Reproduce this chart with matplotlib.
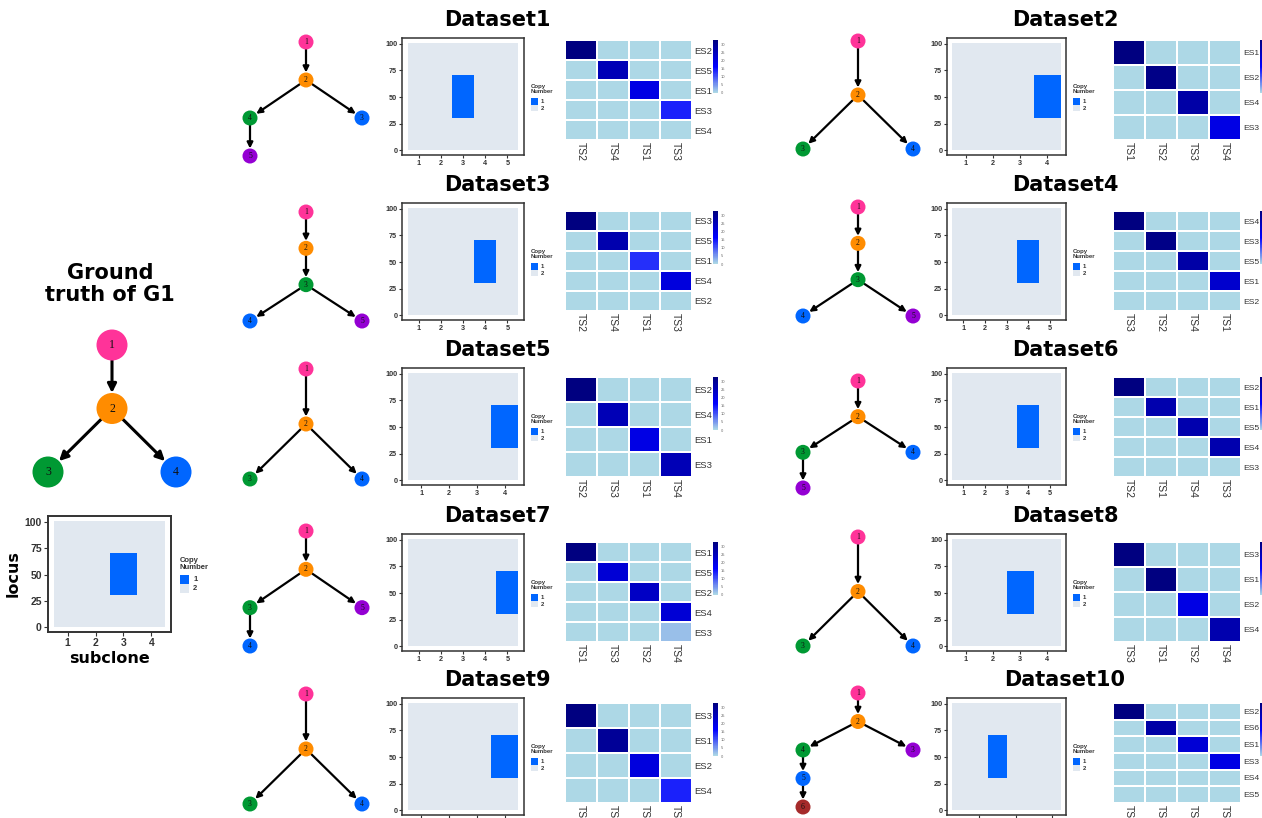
import numpy as np
import matplotlib
matplotlib.use("Agg")
import matplotlib.pyplot as plt
from matplotlib.colors import ListedColormap, LinearSegmentedColormap, BoundaryNorm
from matplotlib.patches import Circle, Rectangle, FancyArrowPatch

# ---------------------------------------------------------------- data
NODE_COLORS = {"pink": "#FF3399", "orange": "#FF8C00", "green": "#009933",
               "blue": "#0066FF", "purple": "#9400D3", "brown": "#A52A2A"}

# ground truth tree and copy-number profile
gt_edges = [(1, 2), (2, 3), (2, 4)]
gt_colors = {1: "pink", 2: "orange", 3: "green", 4: "blue"}
gt_n_subclones = 4
gt_deleted_subclone = 3
gt_deleted_loci = (31, 70)

dataset_names = ["Dataset1", "Dataset2", "Dataset3", "Dataset4", "Dataset5",
                 "Dataset6", "Dataset7", "Dataset8", "Dataset9", "Dataset10"]

tree_edges = [
    [(1, 2), (2, 4), (2, 3), (4, 5)],
    [(1, 2), (2, 3), (2, 4)],
    [(1, 2), (2, 3), (3, 4), (3, 5)],
    [(1, 2), (2, 3), (3, 4), (3, 5)],
    [(1, 2), (2, 3), (2, 4)],
    [(1, 2), (2, 3), (2, 4), (3, 5)],
    [(1, 2), (2, 3), (2, 5), (3, 4)],
    [(1, 2), (2, 3), (2, 4)],
    [(1, 2), (2, 3), (2, 4)],
    [(1, 2), (2, 4), (2, 3), (4, 5), (5, 6)],
]
tree_colors = [
    {1: "pink", 2: "orange", 3: "blue", 4: "green", 5: "purple"},
    {1: "pink", 2: "orange", 3: "green", 4: "blue"},
    {1: "pink", 2: "orange", 3: "green", 4: "blue", 5: "purple"},
    {1: "pink", 2: "orange", 3: "green", 4: "blue", 5: "purple"},
    {1: "pink", 2: "orange", 3: "green", 4: "blue"},
    {1: "pink", 2: "orange", 3: "green", 4: "blue", 5: "purple"},
    {1: "pink", 2: "orange", 3: "green", 4: "blue", 5: "purple"},
    {1: "pink", 2: "orange", 3: "green", 4: "blue"},
    {1: "pink", 2: "orange", 3: "green", 4: "blue"},
    {1: "pink", 2: "orange", 3: "purple", 4: "green", 5: "blue", 6: "brown"},
]

cna_n_subclones = [5, 4, 5, 5, 4, 5, 5, 4, 4, 6]
cna_deleted_subclone = [3, 4, 4, 4, 4, 4, 5, 3, 4, 3]
cna_deleted_loci = (31, 70)

es_labels = [
    ["ES2", "ES5", "ES1", "ES3", "ES4"],
    ["ES1", "ES2", "ES4", "ES3"],
    ["ES3", "ES5", "ES1", "ES4", "ES2"],
    ["ES4", "ES3", "ES5", "ES1", "ES2"],
    ["ES2", "ES4", "ES1", "ES3"],
    ["ES2", "ES1", "ES5", "ES4", "ES3"],
    ["ES1", "ES5", "ES2", "ES4", "ES3"],
    ["ES3", "ES1", "ES2", "ES4"],
    ["ES3", "ES1", "ES2", "ES4"],
    ["ES2", "ES6", "ES1", "ES3", "ES4", "ES5"],
]
ts_labels = [
    ["TS2", "TS4", "TS1", "TS3"],
    ["TS1", "TS2", "TS3", "TS4"],
    ["TS2", "TS4", "TS1", "TS3"],
    ["TS3", "TS2", "TS4", "TS1"],
    ["TS2", "TS3", "TS1", "TS4"],
    ["TS2", "TS1", "TS4", "TS3"],
    ["TS1", "TS3", "TS2", "TS4"],
    ["TS3", "TS1", "TS2", "TS4"],
    ["TS3", "TS1", "TS2", "TS4"],
    ["TS2", "TS1", "TS3", "TS4"],
]
overlap_values = [
    [[33, 0, 0, 0], [0, 26, 0, 0], [0, 0, 20, 0], [0, 0, 0, 14], [0, 0, 0, 0]],
    [[33, 0, 0, 0], [0, 32, 0, 0], [0, 0, 28, 0], [0, 0, 0, 20]],
    [[33, 0, 0, 0], [0, 27, 0, 0], [0, 0, 13, 0], [0, 0, 0, 21], [0, 0, 0, 0]],
    [[33, 0, 0, 0], [0, 32, 0, 0], [0, 0, 28, 0], [0, 0, 0, 23], [0, 0, 0, 0]],
    [[33, 0, 0, 0], [0, 26, 0, 0], [0, 0, 20, 0], [0, 0, 0, 26]],
    [[33, 0, 0, 0], [0, 27, 0, 0], [0, 0, 27, 0], [0, 0, 0, 27], [0, 0, 0, 0]],
    [[33, 0, 0, 0], [0, 22, 0, 0], [0, 0, 24, 0], [0, 0, 0, 22], [0, 0, 0, 2]],
    [[33, 0, 0, 0], [0, 33, 0, 0], [0, 0, 20, 0], [0, 0, 0, 27]],
    [[33, 0, 0, 0], [0, 30, 0, 0], [0, 0, 21, 0], [0, 0, 0, 14]],
    [[33, 0, 0, 0], [0, 28, 0, 0], [0, 0, 22, 0], [0, 0, 0, 20], [0, 0, 0, 0], [0, 0, 0, 0]],
]

# ---------------------------------------------------------------- layout (pixels)
W, H, DPI = 1262, 818, 100
title_y = [20, 185, 350, 516, 680]
cna_top = [38, 203, 368, 534, 698]
heat_top = [40, 211, 377, 542, 703]
tree_box = [  # (top, bottom) of each tree
    (42, 156), (41, 149), (212, 321), (207, 316), (369, 479),
    (381, 488), (531, 646), (537, 646), (694, 804), (693, 807)]
col_title_x = [497, 1065]
col_tree_cx = [306, 858]
col_tree_half = [56, 55]
col_cna_x = [402, 947]
col_cna_w = [122, 119]
col_legend_x = [531, 1073]
col_heat_x = [565, 1113]
col_heat_w = [127, 128]
col_cbar_x = [713, 1259.5]
col_cbar_labels = [True, False]
col_es_fs = [6.8, 6.1]

CN_COLORS = ["#0066FF", "#E1E8F0"]
TEXT_DARK = "#333333"
TITLE_FONT = dict(fontsize=15, fontweight="bold", family="DejaVu Sans")
heat_cmap = LinearSegmentedColormap.from_list(
    "overlap", ["#ADD8E6", "#0000FF", "#000080"])

fig = plt.figure(figsize=(W / DPI, H / DPI), dpi=DPI)
canvas = fig.add_axes([0, 0, 1, 1])
canvas.set_xlim(0, W)
canvas.set_ylim(H, 0)
canvas.axis("off")


def px_axes(x0, y0, w, h, zorder=1):
    return fig.add_axes([x0 / W, 1 - (y0 + h) / H, w / W, h / H], zorder=zorder)


def tree_layout(edges):
    children = {}
    for p, c in edges:
        children.setdefault(p, []).append(c)
    root = edges[0][0]
    pos = {root: (0.0, 0)}
    stack = [root]
    while stack:
        n = stack.pop()
        x, d = pos[n]
        kids = children.get(n, [])
        if len(kids) == 1:
            pos[kids[0]] = (x, d + 1)
        else:
            for k, o in zip(kids, np.linspace(-1, 1, len(kids))):
                pos[k] = (x + o, d + 1)
        stack.extend(kids)
    return pos


def draw_tree(edges, colors, cx, half, top, bottom, r, lw, fs, head):
    pos = tree_layout(edges)
    maxd = max(d for _, d in pos.values())
    xs = [x for x, _ in pos.values()]
    span = max(max(abs(v) for v in xs), 1e-9)
    P = {n: (cx + x / span * half, top + d / maxd * (bottom - top))
         for n, (x, d) in pos.items()}
    shrink = r * 72 / DPI
    for p, c in edges:
        arr = FancyArrowPatch(P[p], P[c], arrowstyle="-|>", mutation_scale=head,
                              shrinkA=shrink, shrinkB=shrink, lw=lw,
                              color="black", zorder=2)
        canvas.add_patch(arr)
    for n, (x, y) in P.items():
        canvas.add_patch(Circle((x, y), r, fc=NODE_COLORS[colors[n]],
                                ec="none", zorder=3))
        canvas.text(x, y, str(n), ha="center", va="center", fontsize=fs,
                    family="Liberation Serif", color="#111111", zorder=4)


def draw_cna(x0, y0, w, h, n_sub, deleted, loci, tick_fs, big=False):
    ax = px_axes(x0, y0, w, h)
    cn = np.full((100, n_sub), 2)
    cn[loci[0] - 1:loci[1], deleted - 1] = 1
    xe = np.arange(0.5, n_sub + 1, 1.0)
    ye = np.arange(0.5, 101, 1.0)
    ax.pcolormesh(xe, ye, cn, cmap=ListedColormap(CN_COLORS),
                  norm=BoundaryNorm([0.5, 1.5, 2.5], 2), shading="flat",
                  antialiased=False, linewidth=0, rasterized=True)
    pad = 0.05 * n_sub
    ax.set_xlim(0.5 - pad, n_sub + 0.5 + pad)
    ax.set_ylim(0.5 - 5, 100.5 + 5)
    if n_sub <= 5:
        ax.set_xticks(range(1, n_sub + 1))
    else:
        ax.set_xticks(range(2, n_sub + 1, 2))
    ax.set_yticks([0, 25, 50, 75, 100])
    ax.tick_params(length=3 if big else 2.2, width=0.8, color=TEXT_DARK,
                   labelsize=tick_fs, labelcolor=TEXT_DARK, pad=1.5 if big else 1.2)
    for lab in ax.get_xticklabels() + ax.get_yticklabels():
        lab.set_fontweight("bold")
        lab.set_family("Liberation Sans")
    for s in ax.spines.values():
        s.set_color(TEXT_DARK)
        s.set_linewidth(1.4 if big else 1.1)
    ax.set_facecolor("white")
    return ax


def draw_legend(x, y, fs, box, gap):
    canvas.text(x, y, "Copy\nNumber", ha="left", va="top", fontsize=fs,
                fontweight="bold", family="Liberation Sans", color=TEXT_DARK,
                linespacing=1.0)
    ky = y + fs * 2.0 * DPI / 72 + gap
    for i, (c, lab) in enumerate(zip(CN_COLORS, ["1", "2"])):
        canvas.add_patch(Rectangle((x, ky + i * box), box, box, fc=c, ec="none"))
        canvas.text(x + box + box * 0.45, ky + i * box + box / 2, lab,
                    ha="left", va="center", fontsize=fs, fontweight="bold",
                    family="Liberation Sans", color=TEXT_DARK)


def draw_heatmap(x0, y0, w, h, vals, rows, cols, cbar_x, cbar_labels, es_fs):
    vals = np.array(vals, dtype=float)
    ax = px_axes(x0, y0, w, h)
    nr, nc = vals.shape
    ax.pcolormesh(np.arange(nc + 1), np.arange(nr + 1), vals, cmap=heat_cmap,
                  vmin=0, vmax=vals.max(), edgecolors="white", linewidth=1.3)
    ax.set_xlim(0, nc)
    ax.set_ylim(nr, 0)
    ax.set_xticks(np.arange(nc) + 0.5)
    ax.set_xticklabels(cols, rotation=-90, fontsize=7.5, color=TEXT_DARK,
                       family="Liberation Sans")
    ax.set_yticks(np.arange(nr) + 0.5)
    ax.set_yticklabels(rows, fontsize=es_fs, color=TEXT_DARK, family="Liberation Sans")
    ax.yaxis.tick_right()
    ax.tick_params(length=0, pad=1.3)
    for s in ax.spines.values():
        s.set_visible(False)
    # colour bar
    cax = px_axes(cbar_x, y0, 4.5, 53)
    grad = np.linspace(0, vals.max(), 100).reshape(-1, 1)
    cax.pcolormesh([0, 1], np.linspace(0, vals.max(), 101), grad, cmap=heat_cmap,
                   vmin=0, vmax=vals.max(), shading="flat")
    cax.set_xlim(0, 1)
    cax.set_ylim(0, vals.max())
    cax.set_xticks([])
    if cbar_labels:
        cax.yaxis.tick_right()
        cax.set_yticks(np.arange(0, vals.max() + 0.1, 5))
        cax.tick_params(length=0, labelsize=2.6, labelcolor="#666666", pad=2)
    else:
        cax.set_yticks([])
    for s in cax.spines.values():
        s.set_visible(False)


# ---------------------------------------------------------------- ground truth
canvas.text(110, 284, "Ground\ntruth of G1", ha="center", va="center",
            linespacing=1.1, **TITLE_FONT)
draw_tree(gt_edges, gt_colors, 112, 64, 345, 472, r=15.5, lw=2.2, fs=8.5, head=13)
gt_ax = draw_cna(48, 516, 123, 116, gt_n_subclones, gt_deleted_subclone,
                 gt_deleted_loci, tick_fs=7.5, big=True)
gt_ax.set_xlabel("subclone", fontsize=11.5, fontweight="bold",
                 family="DejaVu Sans", labelpad=2)
gt_ax.set_ylabel("locus", fontsize=11.5, fontweight="bold",
                 family="DejaVu Sans", labelpad=3)
draw_legend(180, 557, 5.5, 9, 3)

# ---------------------------------------------------------------- datasets
for i, name in enumerate(dataset_names):
    col, row = i % 2, i // 2
    canvas.text(col_title_x[col], title_y[row], name, ha="center", va="center",
                **TITLE_FONT)
    top, bottom = tree_box[i]
    draw_tree(tree_edges[i], tree_colors[i], col_tree_cx[col], col_tree_half[col],
              top, bottom, r=7.5, lw=1.6, fs=5.5, head=8.5)
    draw_cna(col_cna_x[col], cna_top[row], col_cna_w[col], 117,
             cna_n_subclones[i], cna_deleted_subclone[i], cna_deleted_loci,
             tick_fs=5.2)
    draw_legend(col_legend_x[col], cna_top[row] + 46, 4.3, 6.5, 2.5)
    draw_heatmap(col_heat_x[col], heat_top[row], col_heat_w[col], 100,
                 overlap_values[i], es_labels[i], ts_labels[i], col_cbar_x[col],
                 col_cbar_labels[col], col_es_fs[col])

fig.savefig("out.png", dpi=DPI)
